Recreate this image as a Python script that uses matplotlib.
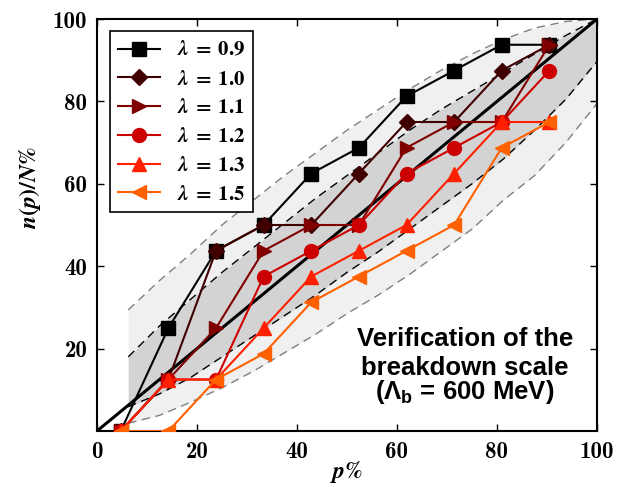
import matplotlib
matplotlib.use('Agg')
import matplotlib.pyplot as plt
import numpy as np

plt.rcParams['mathtext.fontset'] = 'stix'

# percentiles p (%) and success ratios n(p)/N (%) for each lambda
p_vals = [4.76, 14.29, 23.81, 33.33, 42.86, 52.38, 61.90, 71.43, 80.95, 90.48]
lam_09 = [0, 25, 43.75, 50, 62.5, 68.75, 81.25, 87.5, 93.75, 93.75]
lam_10 = [0, 12.5, 43.75, 50, 50, 62.5, 75, 75, 87.5, 93.75]
lam_11 = [0, 12.5, 25, 43.75, 50, 50, 68.75, 75, 75, 93.75]
lam_12 = [0, 12.5, 12.5, 37.5, 43.75, 50, 62.5, 68.75, 75, 87.5]
lam_13 = [0, 12.5, 12.5, 25, 37.5, 43.75, 50, 62.5, 75, 75]
lam_15 = [0, 0, 12.5, 18.75, 31.25, 37.5, 43.75, 50, 68.75, 75]

lam_names = ['0.9', '1.0', '1.1', '1.2', '1.3', '1.5']
labels = [r'$\mathbfit{\lambda}\;\mathbf{=}\;\mathbf{%s}$' % s for s in lam_names]
colors = ['#000000', '#400000', '#800000', '#cc0000', '#ff2000', '#ff6000']
markers = ['s', 'D', '>', 'o', '^', '<']

# credible bands
band_p = [6.25, 12.5, 18.75, 25, 31.25, 37.5, 43.75, 50, 56.25, 62.5, 68.75, 75, 81.25, 87.5, 93.75, 100]
outer_hi = [29.4, 36.5, 43, 50, 56, 62, 67.5, 73, 78, 83, 87.5, 91.5, 95, 97.8, 99.4, 100]
inner_hi = [18, 25.5, 32, 38.5, 44.5, 50.5, 56.5, 62, 67.5, 73, 78, 82.5, 87, 91.5, 96, 100]
inner_lo = [5.9, 9, 13, 18, 23, 28, 33, 38.5, 43.5, 49, 54.5, 60, 66, 73, 80.5, 89.7]
outer_lo = [1.9, 3.8, 7, 10.5, 14.5, 19, 23.5, 28.5, 33, 38, 43.5, 49, 56, 62, 70, 79.5]

fig = plt.figure(figsize=(6.27, 4.87), dpi=100)
ax = fig.add_axes([97/627, 1-431/487, 500/627, 412/487])

ax.fill_between(band_p, outer_lo, outer_hi, color='#f0f0f0', lw=0, zorder=1)
ax.fill_between(band_p, inner_lo, inner_hi, color='#d3d3d3', lw=0, zorder=1)
ax.plot(band_p, outer_hi, '--', color='#808080', lw=1, dashes=(6, 4), zorder=2)
ax.plot(band_p, outer_lo, '--', color='#808080', lw=1, dashes=(6, 4), zorder=2)
ax.plot(band_p, inner_hi, '--', color='k', lw=1, dashes=(6, 4), zorder=2)
ax.plot(band_p, inner_lo, '--', color='k', lw=1, dashes=(6, 4), zorder=2)
ax.plot([0, 100], [0, 100], color='k', lw=2.2, zorder=3)

series = [lam_09, lam_10, lam_11, lam_12, lam_13, lam_15]
for y, lab, c, m in zip(series, labels, colors, markers):
    ax.plot(p_vals, y, marker=m, color=c, mec=c, mfc=c, ms=10 if m != 'D' else 8.5,
            lw=1.5, label=lab, zorder=4)

ax.set_xlim(0, 100)
ax.set_ylim(0, 100)
ax.set_xticks([0, 20, 40, 60, 80, 100])
ax.set_yticks([20, 40, 60, 80, 100])
ax.tick_params(direction='in', top=True, right=True, length=5, width=1, labelsize=16.5, pad=7)
for t in ax.get_xticklabels() + ax.get_yticklabels():
    t.set_fontfamily('cmb10')
for s in ax.spines.values():
    s.set_linewidth(1.5)

ax.set_xlabel(r'$\mathbfit{p}\mathbf{\%}$', fontsize=17)
ax.set_ylabel(r'$\mathbfit{n}\mathbf{(}\mathbfit{p}\mathbf{)/}\mathbfit{N}\mathbf{\%}$', fontsize=17)
ax.xaxis.set_label_coords(0.5, -0.068)
ax.yaxis.set_label_coords(-0.108, 0.59)

leg = ax.legend(loc='upper left', numpoints=1, fontsize=15, fancybox=False, edgecolor='k',
                framealpha=1, handlelength=2.0, labelspacing=0.42, borderpad=0.4,
                bbox_to_anchor=(0.005, 0.995))
leg.get_frame().set_linewidth(1.2)

plt.rcParams['mathtext.rm'] = 'Liberation Sans:bold'
plt.rcParams['mathtext.bf'] = 'Liberation Sans:bold'
plt.rcParams['mathtext.it'] = 'Liberation Sans:bold'
ax.text(73.6, 20.7, 'Verification of the', ha='center', fontsize=18.5,
        fontfamily='Liberation Sans', fontweight='bold', zorder=5)
ax.text(73.6, 13.6, 'breakdown scale', ha='center', fontsize=18.5,
        fontfamily='Liberation Sans', fontweight='bold', zorder=5)
ax.text(73.6, 7.8, r'($\Lambda_{\mathrm{b}}$ = 600 MeV)', ha='center', fontsize=18.5,
        fontfamily='Liberation Sans', fontweight='bold', math_fontfamily='custom', zorder=5)

fig.savefig('out.png', dpi=100)
